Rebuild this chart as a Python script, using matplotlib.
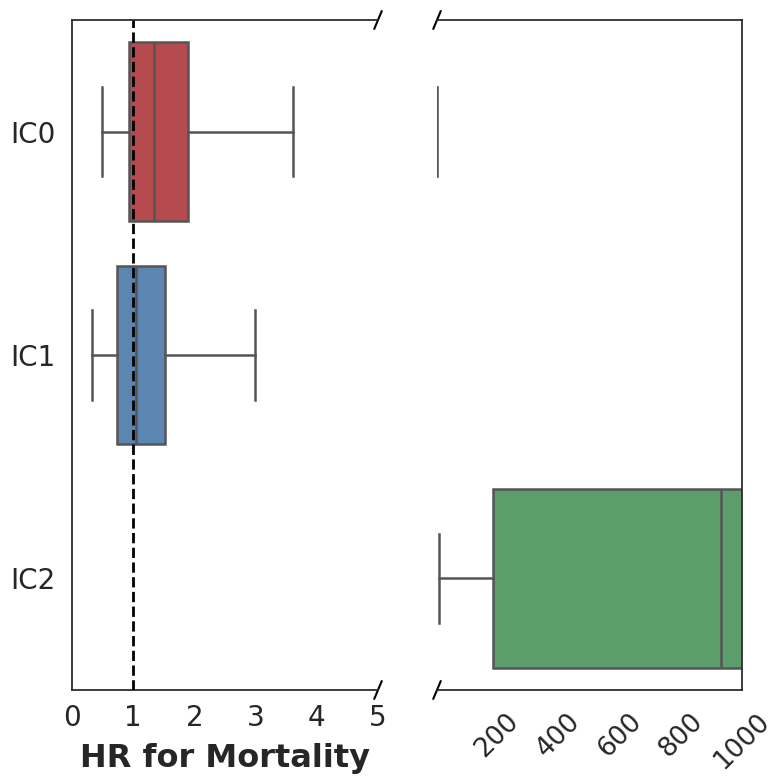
import matplotlib
matplotlib.use('Agg')
import matplotlib.pyplot as plt

# box statistics (HR for mortality)
groups = ["IC0", "IC1", "IC2"]
whisker_low = [0.49, 0.32, 9.0]
q1 = [0.93, 0.73, 186.0]
median = [1.34, 1.05, 931.0]
q3 = [1.90, 1.52, 1500.0]
whisker_high = [3.61, 2.99, 3000.0]
colors = ["#b54b4e", "#5b86b2", "#5b9e6b"]

left_ticks = [0, 1, 2, 3, 4, 5]
right_ticks = [200, 400, 600, 800, 1000]
left_lim = (0, 5)
right_lim = (3.0, 1000)

LINE = "#555555"
TEXT = "#262626"

stats = []
for i, g in enumerate(groups):
    stats.append(dict(label=g, whislo=whisker_low[i], q1=q1[i], med=median[i],
                      q3=q3[i], whishi=whisker_high[i], fliers=[]))

fig = plt.figure(figsize=(7.75, 7.8), dpi=100)
ax = fig.add_axes([72 / 775, 90 / 780, 306 / 775, 670 / 780])
ax2 = fig.add_axes([437 / 775, 90 / 780, 305 / 775, 670 / 780])


def draw(axis, idx, box=True):
    if not idx:
        return
    parts = axis.bxp([stats[i] for i in idx], positions=idx, vert=False,
                     widths=0.8, capwidths=0.4, patch_artist=True, showfliers=False,
                     showbox=box,
                     boxprops=dict(linewidth=1.8, edgecolor=LINE),
                     medianprops=dict(linewidth=1.8, color=LINE, visible=box),
                     whiskerprops=dict(linewidth=1.8, color=LINE),
                     capprops=dict(linewidth=1.8, color=LINE))
    for patch, i in zip(parts["boxes"], idx):
        patch.set_facecolor(colors[i])


draw(ax, [0, 1, 2])
# right panel: full boxes past the break, only whisker ends for the ones that just reach it
lo = right_lim[0]
draw(ax2, [i for i in range(len(groups)) if q3[i] >= lo])
draw(ax2, [i for i in range(len(groups)) if q3[i] < lo <= whisker_high[i]], box=False)

ax.axvline(1, color="black", linestyle="--", linewidth=2, zorder=5)

for a in (ax, ax2):
    a.set_ylim(2.5, -0.5)
    a.tick_params(length=0, labelsize=20, colors=TEXT)
    for s in a.spines.values():
        s.set_linewidth(1.25)
        s.set_color(TEXT)

ax.set_xlim(*left_lim)
ax.set_xticks(left_ticks)
ax.set_xticklabels([str(t) for t in left_ticks])
ax.set_yticks(range(len(groups)))
ax.set_yticklabels(groups)
ax.tick_params(axis="y", pad=12)
ax.tick_params(axis="x", pad=10)
ax.spines["right"].set_visible(False)
ax.set_xlabel("HR for Mortality", fontsize=23, fontweight="bold", color=TEXT, labelpad=8)

ax2.set_xlim(*right_lim)
ax2.set_xticks(right_ticks)
ax2.set_xticklabels([str(t) for t in right_ticks], rotation=45, fontsize=19)
ax2.tick_params(axis="x", pad=13)
ax2.set_yticks([])
ax2.spines["left"].set_visible(False)

# break marks
dx, dy = 0.012, 0.013
kw = dict(color="black", linewidth=1.5, clip_on=False)
ax.plot((1 - dx, 1 + dx), (-dy, dy), transform=ax.transAxes, **kw)
ax.plot((1 - dx, 1 + dx), (1 - dy, 1 + dy), transform=ax.transAxes, **kw)
ax2.plot((-dx, dx), (-dy, dy), transform=ax2.transAxes, **kw)
ax2.plot((-dx, dx), (1 - dy, 1 + dy), transform=ax2.transAxes, **kw)

plt.savefig("out.png", dpi=100)
plt.close()
